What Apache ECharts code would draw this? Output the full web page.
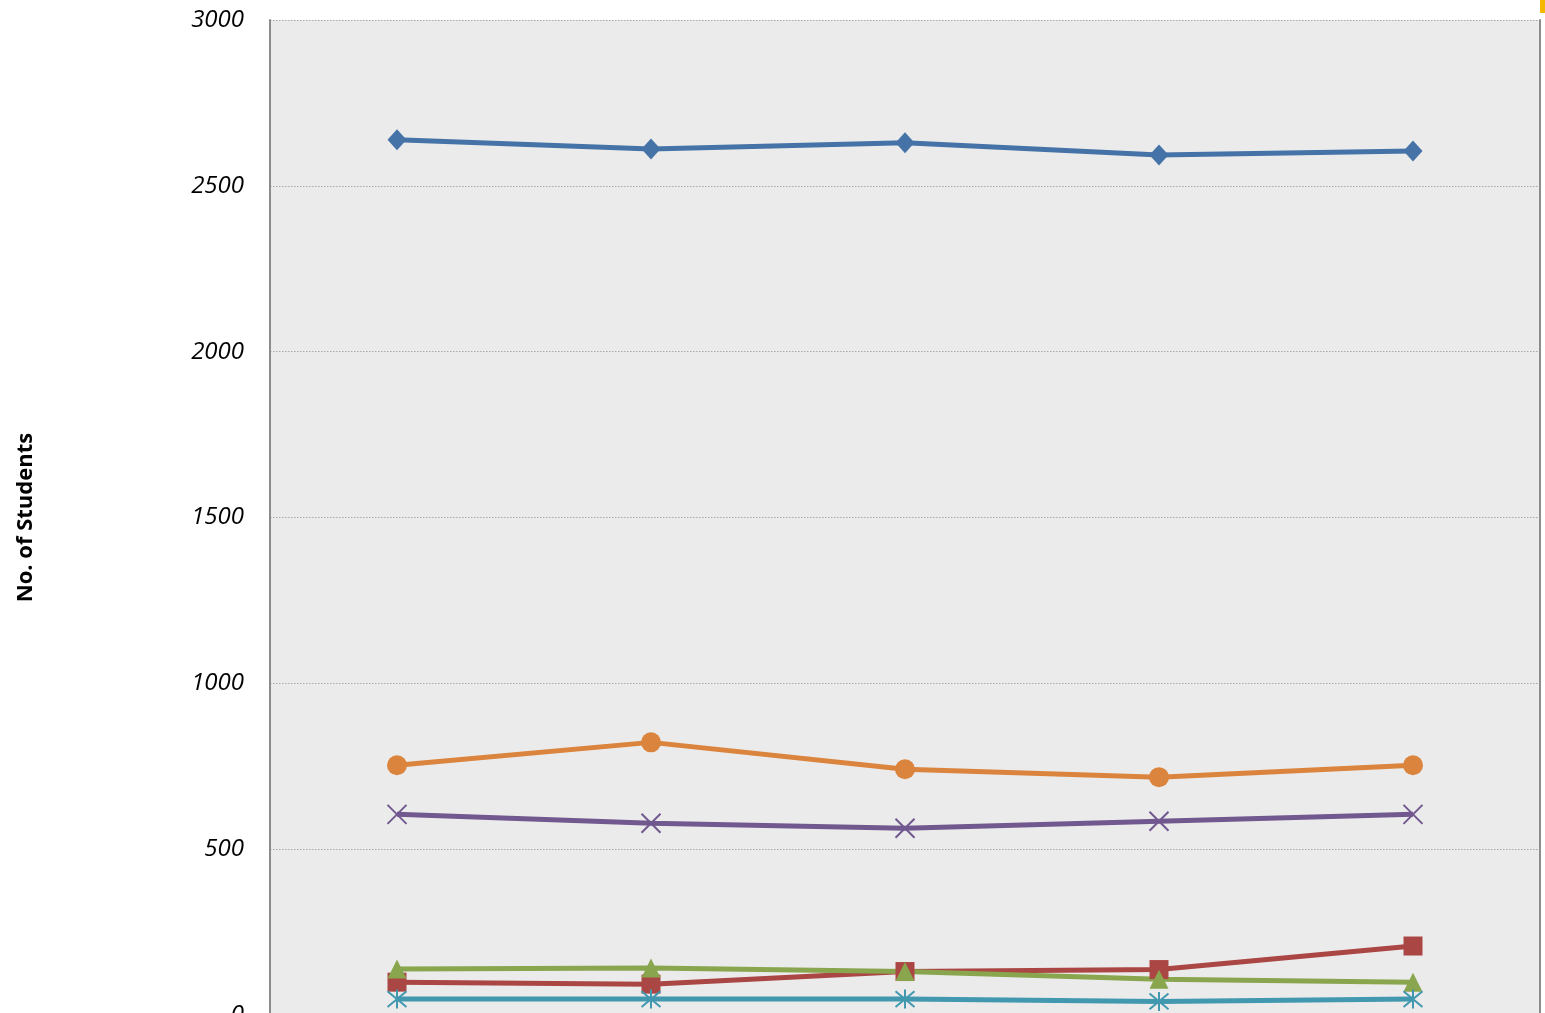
<!DOCTYPE html>
<html>
<head>
<meta charset="utf-8">
<script src="https://cdn.jsdelivr.net/npm/echarts@6/dist/echarts.min.js"></script>
<style>
html,body{margin:0;padding:0;overflow:hidden;background:#fff;}
#chart{width:1545px;height:1100px;}
</style>
</head>
<body>
<div id="chart"></div>
<script>
const categories = ['2008', '2009', '2010', '2011', '2012'];
const seriesBlue   = [2639, 2611, 2630, 2593, 2605];
const seriesRed    = [99, 93, 131, 137, 208];
const seriesGreen  = [139, 142, 131, 108, 99];
const seriesPurple = [605, 578, 563, 584, 605];
const seriesTeal   = [48, 48, 48, 41, 48];
const seriesOrange = [753, 822, 741, 717, 753];
const yTicks = [0, 500, 1000, 1500, 2000, 2500, 3000];

const chart = echarts.init(document.getElementById('chart'));

function lineSeries(name, data, color, symbol, size, stroke) {
  const s = {
    name: name,
    type: 'line',
    data: data,
    symbol: symbol,
    symbolSize: size,
    showAllSymbol: true,
    lineStyle: { color: color, width: 5 },
    itemStyle: { color: color },
    emphasis: { disabled: true },
    animation: false,
    z: 3
  };
  if (stroke) {
    s.itemStyle = { color: 'rgba(0,0,0,0)', borderColor: color, borderWidth: 2 };
    s.z = 4;
  }
  return s;
}

const option = {
  animation: false,
  grid: {
    left: 270, right: 5, top: 20, bottom: 85,
    outerBoundsMode: 'none',
    containLabel: false,
    show: true, backgroundColor: '#EBEBEB', borderWidth: 0
  },
  xAxis: {
    type: 'category',
    data: categories,
    boundaryGap: true,
    axisLine: { show: false },
    axisTick: { show: false },
    axisLabel: { show: false }
  },
  yAxis: [{
    type: 'value',
    min: yTicks[0],
    max: yTicks[yTicks.length - 1],
    interval: 500,
    name: 'No. of Students',
    nameLocation: 'middle',
    nameRotate: 90,
    nameGap: 233,
    nameTextStyle: { fontFamily: 'Open Sans', fontWeight: 'bold', fontSize: 22, color: '#000' },
    axisLine: { show: true, lineStyle: { color: '#8c8c8c', width: 2 } },
    axisTick: { show: false },
    axisLabel: {
      fontFamily: 'Open Sans', fontStyle: 'italic', fontSize: 24, color: '#000', margin: 26,
      formatter: function (v) { return String(v); }
    },
    splitLine: { show: true, lineStyle: { type: [1.5, 1.5], color: '#a8a8a8', width: 1 } }
  }, {
    type: 'value',
    position: 'right',
    min: yTicks[0],
    max: yTicks[yTicks.length - 1],
    interval: 500,
    axisLine: { show: true, lineStyle: { color: '#8c8c8c', width: 2 } },
    axisTick: { show: false },
    axisLabel: { show: false },
    splitLine: { show: false }
  }],
  graphic: [{
    type: 'rect',
    shape: { x: 1540, y: 0, width: 5, height: 13 },
    style: { fill: '#F5B800' },
    z: 100
  }],
  series: [
    lineSeries('Series 1', seriesBlue, '#4572A7', 'diamond', [19, 21]),
    lineSeries('Series 2', seriesRed, '#AA4643', 'rect', 19),
    lineSeries('Series 3', seriesGreen, '#89A54E', 'triangle', 19),
    lineSeries('Series 4', seriesPurple, '#71588F', 'path://M0,0L10,10M10,0L0,10', 19, true),
    lineSeries('Series 5', seriesTeal, '#4198AF', 'path://M0,0L10,10M10,0L0,10M5,-1L5,11', 19, true),
    lineSeries('Series 6', seriesOrange, '#DB843D', 'circle', 20)
  ]
};
chart.setOption(option);
</script>
</body>
</html>
